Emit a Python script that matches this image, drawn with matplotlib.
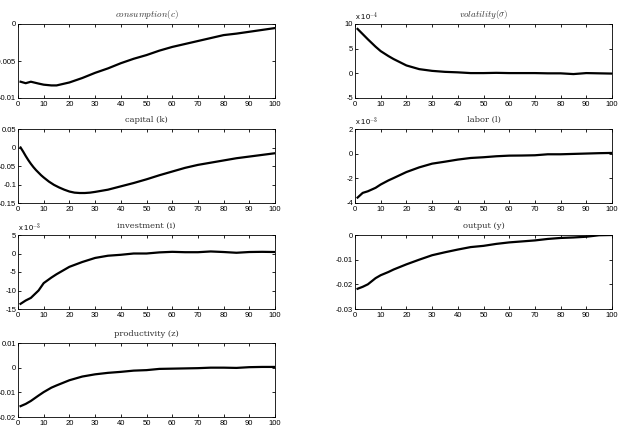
import numpy as np
import matplotlib
matplotlib.use('Agg')
import matplotlib.pyplot as plt

plt.rcParams['font.family'] = ['Liberation Sans', 'DejaVu Sans']
plt.rcParams['axes.unicode_minus'] = False
plt.rcParams['mathtext.fontset'] = 'cm'

t = [1, 3, 5, 8, 10, 13, 15, 20, 25, 30, 35, 40, 45, 50, 55, 60, 65, 70, 75, 80, 85, 90, 95, 100]
t_k = [1, 2, 3, 4, 5, 6, 7, 8, 9, 10, 12, 14, 16, 18, 20, 22, 24, 26, 28, 30, 35, 40, 45, 50, 55,
       60, 65, 70, 75, 80, 85, 90, 95, 100]

consumption = [-0.0078, -0.0080, -0.0078, -0.00805, -0.0082, -0.0083, -0.0083, -0.0079, -0.0073, -0.0066,
               -0.0060, -0.0053, -0.0047, -0.0042, -0.0036, -0.0031, -0.0027, -0.0023, -0.0019, -0.0015,
               -0.0013, -0.00105, -0.0008, -0.00055]
volatility_e4 = [9.0, 7.95, 6.9, 5.4, 4.5, 3.5, 2.9, 1.6, 0.85, 0.5, 0.3, 0.2, 0.05, 0.05, 0.1, 0.05,
                 0.05, 0.05, 0.0, 0.0, -0.15, 0.05, 0.0, -0.05]
capital = [0.0, -0.011, -0.023, -0.034, -0.044, -0.053, -0.061, -0.068, -0.075, -0.081, -0.092, -0.101,
           -0.108, -0.114, -0.119, -0.122, -0.123, -0.123, -0.122, -0.120, -0.114, -0.105,
           -0.096, -0.086, -0.075, -0.065, -0.055, -0.047, -0.041, -0.035, -0.029, -0.0245, -0.020, -0.0155]
labor_e3 = [-3.56, -3.18, -3.05, -2.77, -2.5, -2.17, -1.98, -1.49, -1.11, -0.81, -0.65, -0.48, -0.35,
            -0.29, -0.21, -0.16, -0.15, -0.13, -0.05, -0.05, -0.02, 0.01, 0.04, 0.06]
investment_e3 = [-13.6, -12.7, -12.0, -10.0, -8.0, -6.5, -5.6, -3.6, -2.3, -1.2, -0.6, -0.35, 0.0, 0.0,
                 0.3, 0.45, 0.35, 0.35, 0.55, 0.4, 0.2, 0.4, 0.45, 0.4]
output = [-0.0218, -0.021, -0.020, -0.0175, -0.0163, -0.0150, -0.014, -0.0119, -0.010, -0.0082, -0.007,
          -0.0059, -0.0049, -0.0044, -0.0036, -0.003, -0.0026, -0.0022, -0.0016, -0.0012, -0.001,
          -0.0007, -0.0001, 0.0]
productivity = [-0.0156, -0.0147, -0.0135, -0.0113, -0.0099, -0.0081, -0.0072, -0.0051, -0.0036, -0.0027,
                -0.0021, -0.0017, -0.0012, -0.0010, -0.0005, -0.0004, -0.0003, -0.0002, 0.0, 0.0,
                -0.0001, 0.0002, 0.0003, 0.0003]

x_ticks = [0, 10, 20, 30, 40, 50, 60, 70, 80, 90, 100]

# (title, x, data, yticks, yticklabels, multiplier)
panels = [
    (r'$consumption(c)$', t, consumption, [-0.01, -0.005, 0], ['-0.01', '-0.005', '0'], None),
    (r'$volatility(\sigma)$', t, volatility_e4, [-5, 0, 5, 10], ['-5', '0', '5', '10'], r'x 10$^{-4}$'),
    ('capital (k)', t_k, capital, [-0.15, -0.1, -0.05, 0, 0.05], ['-0.15', '-0.1', '-0.05', '0', '0.05'], None),
    ('labor (l)', t, labor_e3, [-4, -2, 0, 2], ['-4', '-2', '0', '2'], r'x 10$^{-3}$'),
    ('investment (i)', t, investment_e3, [-15, -10, -5, 0, 5], ['-15', '-10', '-5', '0', '5'], r'x 10$^{-3}$'),
    ('output (y)', t, output, [-0.03, -0.02, -0.01, 0], ['-0.03', '-0.02', '-0.01', '0'], None),
    ('productivity (z)', t, productivity, [-0.02, -0.01, 0, 0.01], ['-0.02', '-0.01', '0', '0.01'], None),
]

lefts = [18 / 621, 355 / 621]
bottoms = [1 - 98 / 438, 1 - 203 / 438, 1 - 309 / 438, 1 - 417 / 438]
w = 257 / 621
h = 74 / 438

fig = plt.figure(figsize=(6.21, 4.38), dpi=100, facecolor='white')

for i, (title, xs, vals, yt, ytl, mult) in enumerate(panels):
    row, col = i // 2, i % 2
    ax = fig.add_axes([lefts[col], bottoms[row], w, h])
    ax.plot(xs, vals, color='black', linewidth=1.6, solid_joinstyle='round')
    ax.set_xlim(0, 100)
    ax.set_ylim(yt[0], yt[-1])
    ax.set_xticks(x_ticks)
    ax.set_xticklabels([str(v) for v in x_ticks])
    ax.set_yticks(yt)
    ax.set_yticklabels(ytl)
    ax.tick_params(direction='in', length=2.5, width=0.6, labelsize=5.5, pad=1.3,
                   top=True, right=True)
    ax.tick_params(axis='x', pad=2.5)
    for sp in ax.spines.values():
        sp.set_linewidth(0.6)
    if title.startswith('$'):
        ax.set_title(title, fontsize=6.5, color='#333333', pad=5)
    else:
        ax.set_title(title, fontsize=6, color='#333333', pad=5, family='DejaVu Serif')
    if mult:
        ax.text(0.0, 1.02, mult, transform=ax.transAxes, fontsize=5.5, ha='left', va='bottom')

fig.savefig('out.png', dpi=100)
